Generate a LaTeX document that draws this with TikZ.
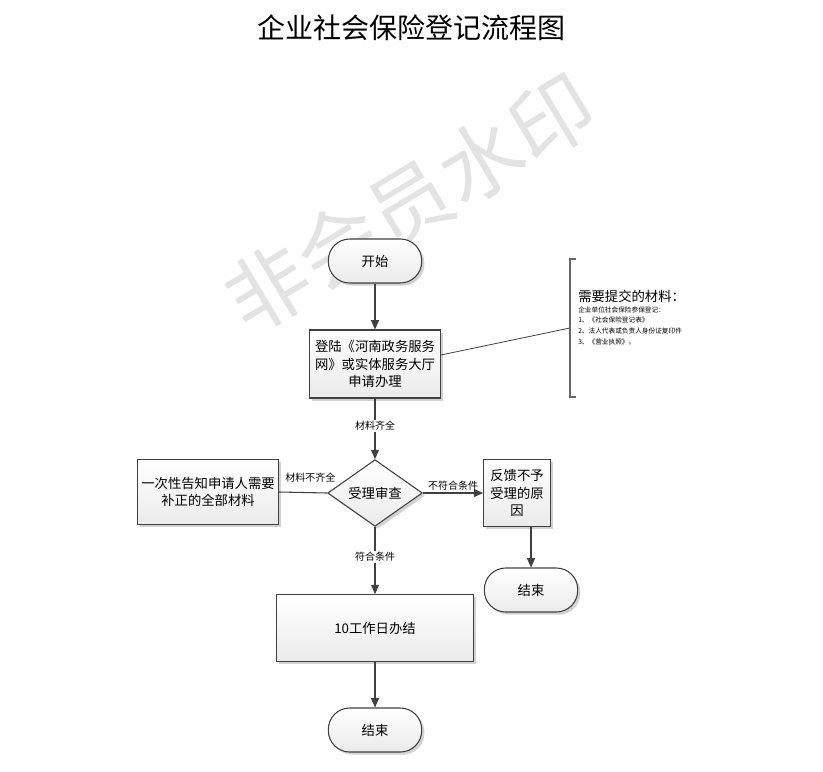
\documentclass[tikz,border=0pt]{standalone}
\usepackage{fontspec}
\setmainfont{Noto Sans CJK SC}
\usetikzlibrary{shapes.geometric,shadows,arrows.meta}
\begin{document}
\begin{tikzpicture}[x=0.75pt,y=-0.75pt,
  base/.style={draw=black!75,line width=0.8pt,top color=white,bottom color=black!8,drop shadow={shadow xshift=2pt,shadow yshift=-2pt,fill=black!35},font=\fontsize{10}{13}\selectfont,align=center},
  pbox/.style={base,rectangle,inner sep=2pt},
  term/.style={base,rounded corners=16pt,minimum width=70pt,minimum height=33pt},
  dec/.style={base,diamond,aspect=1.45,minimum width=71pt,minimum height=50pt,inner sep=0pt},
  conn/.style={draw=black!75,line width=0.8pt},
  arr/.style={conn,-{Triangle[length=7pt,width=6pt]}},
  lab/.style={font=\fontsize{7.5}{9}\selectfont,fill=white,inner sep=1pt}]
\useasboundingbox (0,0) rectangle (823,771);
\node[font=\fontsize{21}{25}\selectfont] (title) at (411,28) {企业社会保险登记流程图};
\node[text=black!11,rotate=31,font=\fontsize{62}{64}\selectfont] (wm) at (410,203) {非会员水印};
\node[term] (start) at (375,261) {开始};
\node[pbox,minimum width=98pt,minimum height=51pt] (apply) at (375,364) {登陆《河南政务服务\\网》或实体服务大厅\\申请办理};
\node[dec] (check) at (375,493) {受理审查};
\node[pbox,minimum width=106pt,minimum height=49pt] (notify) at (208,492) {一次性告知申请人需要\\补正的全部材料};
\node[pbox,minimum width=50pt,minimum height=50pt] (reject) at (517,493) {反馈不予\\受理的原\\因};
\node[term] (end1) at (531,590) {结束};
\node[pbox,minimum width=148pt,minimum height=50pt] (work) at (375,628) {10工作日办结};
\node[term] (end2) at (375,730) {结束};
\draw[arr] (start) -- (apply);
\draw[arr] (apply) -- node[lab,pos=0.45]{材料齐全} (check);
\draw[conn] (check.west) -- node[lab,above=6pt,pos=0.35,fill=none]{材料不齐全} (notify.east);
\draw[arr] (check.east) -- node[lab,above=1pt,fill=none]{不符合条件} (reject.west);
\draw[arr] (check.south) -- node[lab,pos=0.45]{符合条件} (work.north);
\draw[arr] (work) -- (end2);
\draw[arr] (reject.south -| end1.north) -- (end1.north);
\coordinate (br) at (570,328);
\draw[conn,line width=0.6pt] (apply.east |- 0,355) -- (br);
\draw[black!60,line width=1pt] (576,259) -- (570,259) -- (570,397) -- (576,397);
\node[anchor=north west,inner sep=0pt,align=left,font=\fontsize{5}{8}\selectfont] (note) at (578,290) {{\fontsize{10}{12}\selectfont 需要提交的材料：}\\企业单位社会保险参保登记：\\1、《社会保险登记表》\\2、法人代表或负责人身份证复印件\\3、《营业执照》。};
\end{tikzpicture}
\end{document}
